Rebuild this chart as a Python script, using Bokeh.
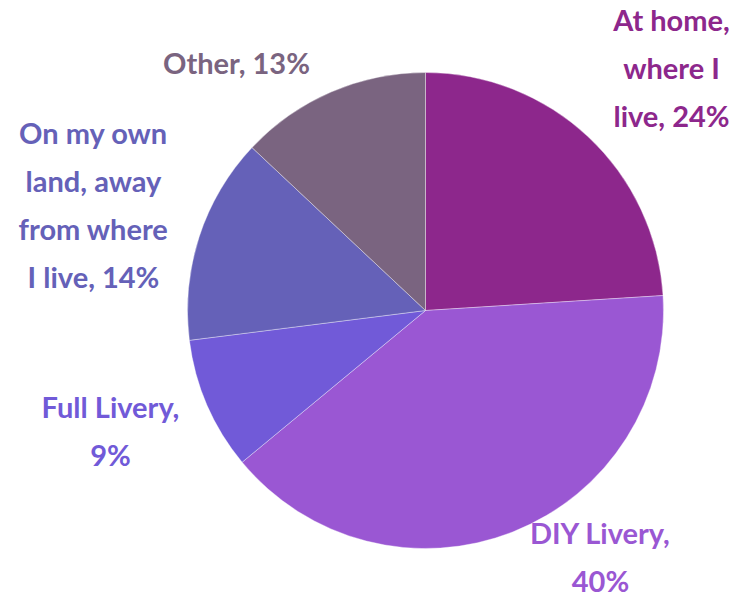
import math
from bokeh.plotting import figure
from bokeh.models import Range1d, ColumnDataSource
from bokeh.core.properties import value
from bokeh.embed import file_html
from bokeh.resources import INLINE

# ---- data ----
categories = ["At home, where I live", "DIY Livery", "Full Livery",
              "On my own land, away from where I live", "Other"]
shares = [24, 40, 9, 14, 13]
label_texts = ["At home,\nwhere I\nlive, 24%", "DIY Livery,\n40%", "Full Livery,\n9%",
               "On my own\nland, away\nfrom where\nI live, 14%", "Other, 13%"]
colors = ["#8D278C", "#9A57D3", "#715AD8", "#6561B8", "#7A6480"]

# ---- layout (picture pixels from top-left) ----
W, H = 738, 599
cx_px, cy_px, R = 425, 310, 238
label_px_x = [671, 600, 110, 93, 236]
label_px_y = [67, 556, 430, 204, 62]

cx, cy = cx_px, H - cy_px
label_x = label_px_x
label_y = [H - v for v in label_px_y]

total = sum(shares)
starts, ends = [], []
acc = 0.0
for s in shares:
    starts.append(math.pi / 2 - 2 * math.pi * acc / total)
    acc += s
    ends.append(math.pi / 2 - 2 * math.pi * acc / total)

src = ColumnDataSource(dict(cat=categories, start=starts, end=ends, color=colors))
lsrc = ColumnDataSource(dict(x=label_x, y=label_y, text=label_texts, color=colors))

p = figure(width=W, height=H, output_backend="svg", toolbar_location=None,
           x_range=Range1d(0, W), y_range=Range1d(0, H), min_border=0,
           match_aspect=False)
p.axis.visible = False
p.grid.visible = False
p.outline_line_color = None
p.background_fill_color = "white"

p.wedge(x=cx, y=cy, radius=R, start_angle="start", end_angle="end", direction="clock",
        fill_color="color", line_color="white", line_width=0.6, line_alpha=0.6, source=src)

p.text(x="x", y="y", text="text", text_color="color", source=lsrc,
       text_font=value("Lato"), text_font_style="bold", text_font_size="29px",
       text_align="center", text_baseline="middle", text_line_height=1.38)

open("out.html", "w").write(file_html(p, INLINE))
